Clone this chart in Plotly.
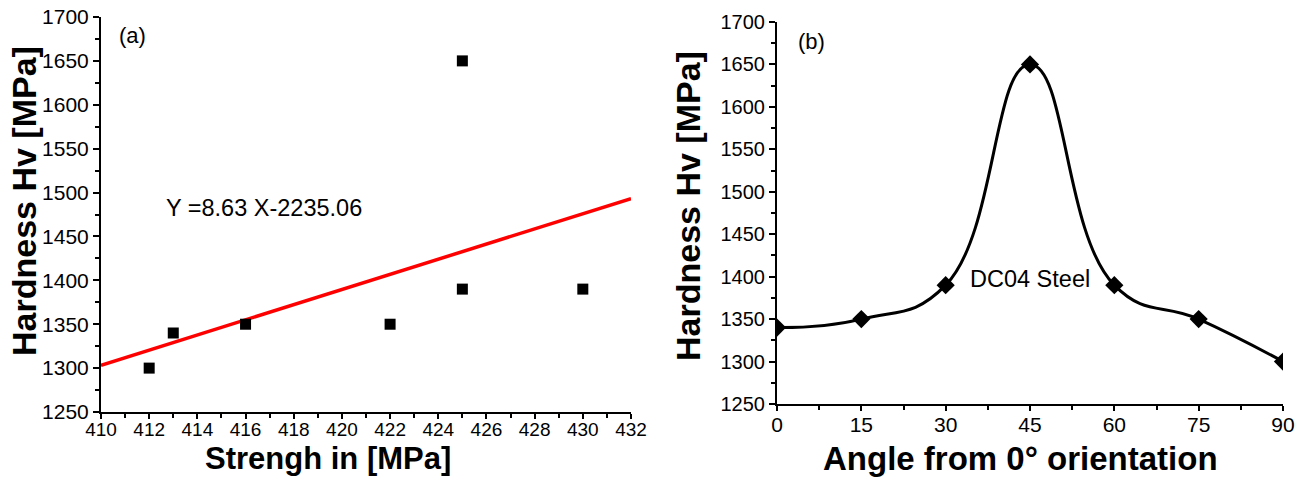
import plotly.graph_objects as go

# Panel (a) data
strength = [412, 413, 416, 422, 425, 425, 430]
hardness_a = [1300, 1340, 1350, 1350, 1390, 1650, 1390]
fit_x = [410, 432]
fit_slope = 8.63
fit_intercept = -2235.06
fit_y = [fit_slope * x + fit_intercept for x in fit_x]

# Panel (b) data
angle = [0, 15, 30, 45, 60, 75, 90]
hardness_b = [1340, 1350, 1390, 1650, 1390, 1350, 1300]

W, H = 1309, 478
FONT = "Liberation Sans, Arial, sans-serif"
fig = go.Figure()

fig.add_trace(go.Scatter(x=fit_x, y=fit_y, mode="lines",
                         line=dict(color="#ff0000", width=3.5),
                         xaxis="x", yaxis="y", showlegend=False))
fig.add_trace(go.Scatter(x=strength, y=hardness_a, mode="markers",
                         marker=dict(symbol="square", size=11, color="black"),
                         xaxis="x", yaxis="y", showlegend=False))
fig.add_trace(go.Scatter(x=angle, y=hardness_b, mode="lines+markers",
                         line=dict(color="black", width=3, shape="spline", smoothing=1.3),
                         marker=dict(symbol="diamond", size=14, color="black"),
                         xaxis="x2", yaxis="y2", showlegend=False))


def px_x(p):
    return p / W


def px_y(p):
    return 1 - p / H


def minor(dt):
    return dict(dtick=dt, ticks="outside", ticklen=4, tickwidth=1.5, tickcolor="black")


common = dict(showline=True, linecolor="black", linewidth=2, ticks="outside",
              tickwidth=2, tickcolor="black", showgrid=False,
              zeroline=False, mirror=False, automargin=False)

fig.update_layout(
    width=W, height=H,
    margin=dict(l=0, r=0, t=0, b=0),
    paper_bgcolor="white", plot_bgcolor="white",
    xaxis=dict(domain=[px_x(101), px_x(631)], range=[410, 432], dtick=2, tick0=410,
               minor=minor(1), tickfont=dict(family=FONT, size=19, color="black"),
               ticklen=5, ticklabelstandoff=-6, anchor="y", **common),
    yaxis=dict(domain=[px_y(412), px_y(17)], range=[1250, 1700], dtick=50, tick0=1250,
               minor=minor(25), tickfont=dict(family=FONT, size=21, color="black"),
               ticklen=6, anchor="x", **common),
    xaxis2=dict(domain=[px_x(777), px_x(1283)], range=[0, 90], dtick=15, tick0=0,
                minor=minor(7.5), tickfont=dict(family=FONT, size=21, color="black"),
                ticklen=5, ticklabelstandoff=-4, anchor="y2", **common),
    yaxis2=dict(domain=[px_y(404), px_y(22)], range=[1250, 1700], dtick=50, tick0=1250,
                minor=minor(25), tickfont=dict(family=FONT, size=20, color="black"),
                ticklen=6, anchor="x2", **common),
)


def ann(text, x, y, size, bold=False, angle=0, xanchor="center"):
    fig.add_annotation(text=f"<b>{text}</b>" if bold else text,
                       x=px_x(x), y=px_y(y), xref="paper", yref="paper",
                       xanchor=xanchor, yanchor="middle", showarrow=False,
                       textangle=angle,
                       font=dict(family=FONT, size=size, color="black"))


# axis titles
ann("Hardness Hv [MPa]", 24, 201, 34, bold=True, angle=-90)
ann("Strengh in [MPa]", 328, 458, 31, bold=True)
ann("Hardness Hv [MPa]", 688, 206, 34, bold=True, angle=-90)
ann("Angle from 0° orientation", 1020, 458, 33, bold=True)

# in-plot labels
ann("(a)", 117, 36, 22, xanchor="left")
ann("Y =8.63 X-2235.06", 164, 208, 23.5, xanchor="left")
ann("(b)", 796, 42, 22, xanchor="left")
ann("DC04 Steel", 968, 279, 23.5, xanchor="left")

fig.write_html("out.html")
